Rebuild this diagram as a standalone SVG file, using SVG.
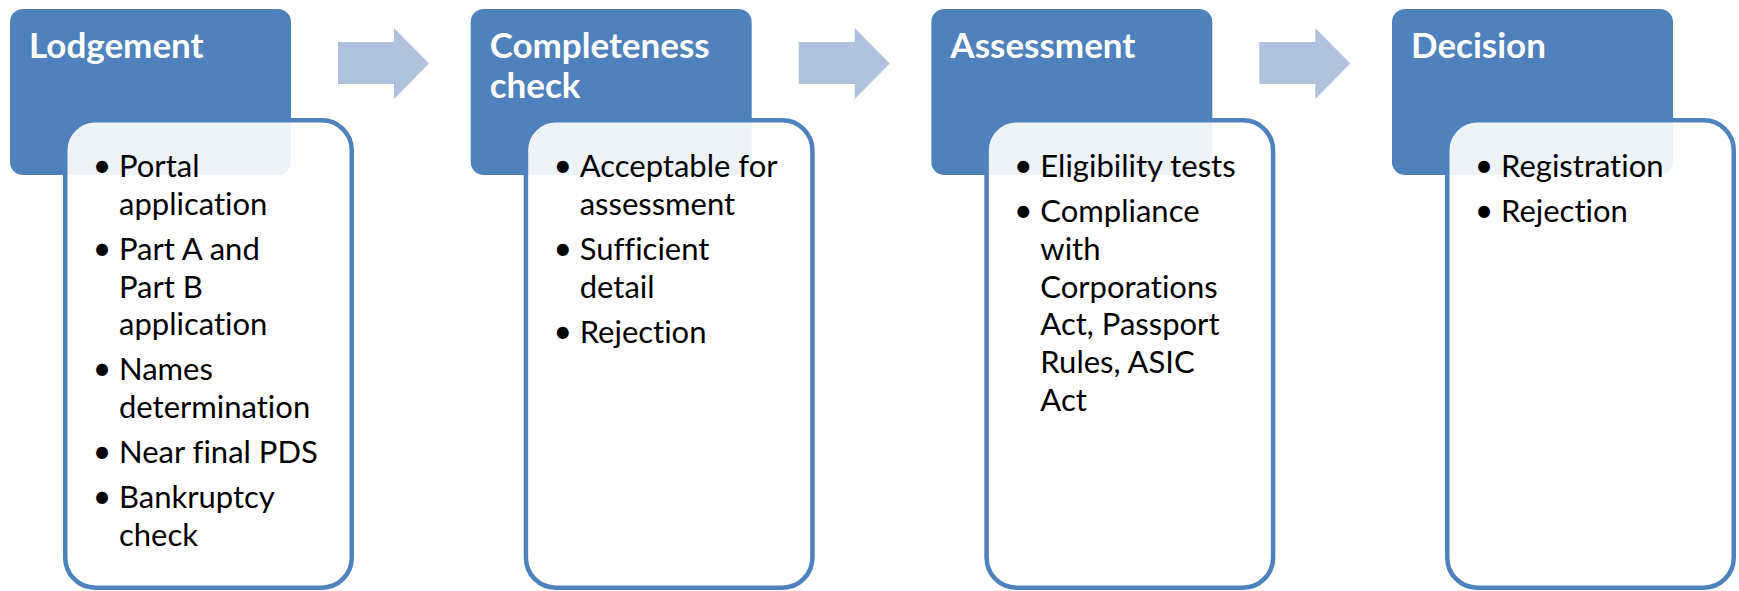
<svg xmlns="http://www.w3.org/2000/svg" width="1739" height="591" viewBox="0 0 1739 591">
<style>
.hdr{fill:#4F81BD}
.det{fill:#FFFFFF;fill-opacity:0.9;stroke:#4F81BD;stroke-width:4.5}
.arr{fill:#B0C1DE}
text{font-variant-ligatures:none}
.ttl{font-family:Lato,"Liberation Sans",sans-serif;font-weight:bold;font-size:35px;fill:#FFFFFF}
.itm{font-family:Lato,"Liberation Sans",sans-serif;font-size:31px;fill:#000000}
.bul{font-family:Lato,"Liberation Sans",sans-serif;font-size:32px;fill:#000000;text-anchor:middle}
</style>
<rect width="1739" height="591" fill="#FFFFFF"/>
<g id="connectors">
<polygon class="arr" points="338,42 394,42 394,28 429,63.5 394,99 394,84 338,84"/>
<polygon class="arr" points="798.7,42 854.7,42 854.7,28 889.7,63.5 854.7,99 854.7,84 798.7,84"/>
<polygon class="arr" points="1259.3,42 1315.3,42 1315.3,28 1350.3,63.5 1315.3,99 1315.3,84 1259.3,84"/>
</g>
<g id="lodgement">
<rect class="hdr" x="10" y="9" width="281" height="166" rx="13"/>
<rect class="det" x="65.25" y="120.25" width="286.5" height="467.5" rx="30"/>
<text class="ttl" x="29" y="58">Lodgement</text>
<text class="bul" x="102" y="177">•</text>
<text class="itm" x="119" y="177">Portal</text>
<text class="itm" x="119" y="214.8">application</text>
<text class="bul" x="102" y="259.8">•</text>
<text class="itm" x="119" y="259.8">Part A and</text>
<text class="itm" x="119" y="297.6">Part B</text>
<text class="itm" x="119" y="335.4">application</text>
<text class="bul" x="102" y="380.4">•</text>
<text class="itm" x="119" y="380.4">Names</text>
<text class="itm" x="119" y="418.2">determination</text>
<text class="bul" x="102" y="463.2">•</text>
<text class="itm" x="119" y="463.2">Near final PDS</text>
<text class="bul" x="102" y="508.2">•</text>
<text class="itm" x="119" y="508.2">Bankruptcy</text>
<text class="itm" x="119" y="546">check</text>
</g>
<g id="completeness-check">
<rect class="hdr" x="470.67" y="9" width="281" height="166" rx="13"/>
<rect class="det" x="525.92" y="120.25" width="286.5" height="467.5" rx="30"/>
<text class="ttl" x="489.67" y="58">Completeness</text>
<text class="ttl" x="489.67" y="98">check</text>
<text class="bul" x="562.67" y="177">•</text>
<text class="itm" x="579.67" y="177">Acceptable for</text>
<text class="itm" x="579.67" y="214.8">assessment</text>
<text class="bul" x="562.67" y="259.8">•</text>
<text class="itm" x="579.67" y="259.8">Sufficient</text>
<text class="itm" x="579.67" y="297.6">detail</text>
<text class="bul" x="562.67" y="342.6">•</text>
<text class="itm" x="579.67" y="342.6">Rejection</text>
</g>
<g id="assessment">
<rect class="hdr" x="931.33" y="9" width="281" height="166" rx="13"/>
<rect class="det" x="986.58" y="120.25" width="286.5" height="467.5" rx="30"/>
<text class="ttl" x="950.33" y="58">Assessment</text>
<text class="bul" x="1023.33" y="177">•</text>
<text class="itm" x="1040.33" y="177">Eligibility tests</text>
<text class="bul" x="1023.33" y="222">•</text>
<text class="itm" x="1040.33" y="222">Compliance</text>
<text class="itm" x="1040.33" y="259.8">with</text>
<text class="itm" x="1040.33" y="297.6">Corporations</text>
<text class="itm" x="1040.33" y="335.4">Act, Passport</text>
<text class="itm" x="1040.33" y="373.2">Rules, ASIC</text>
<text class="itm" x="1040.33" y="411">Act</text>
</g>
<g id="decision">
<rect class="hdr" x="1392" y="9" width="281" height="166" rx="13"/>
<rect class="det" x="1447.25" y="120.25" width="286.5" height="467.5" rx="30"/>
<text class="ttl" x="1411" y="58">Decision</text>
<text class="bul" x="1484" y="177">•</text>
<text class="itm" x="1501" y="177">Registration</text>
<text class="bul" x="1484" y="222">•</text>
<text class="itm" x="1501" y="222">Rejection</text>
</g>
</svg>
